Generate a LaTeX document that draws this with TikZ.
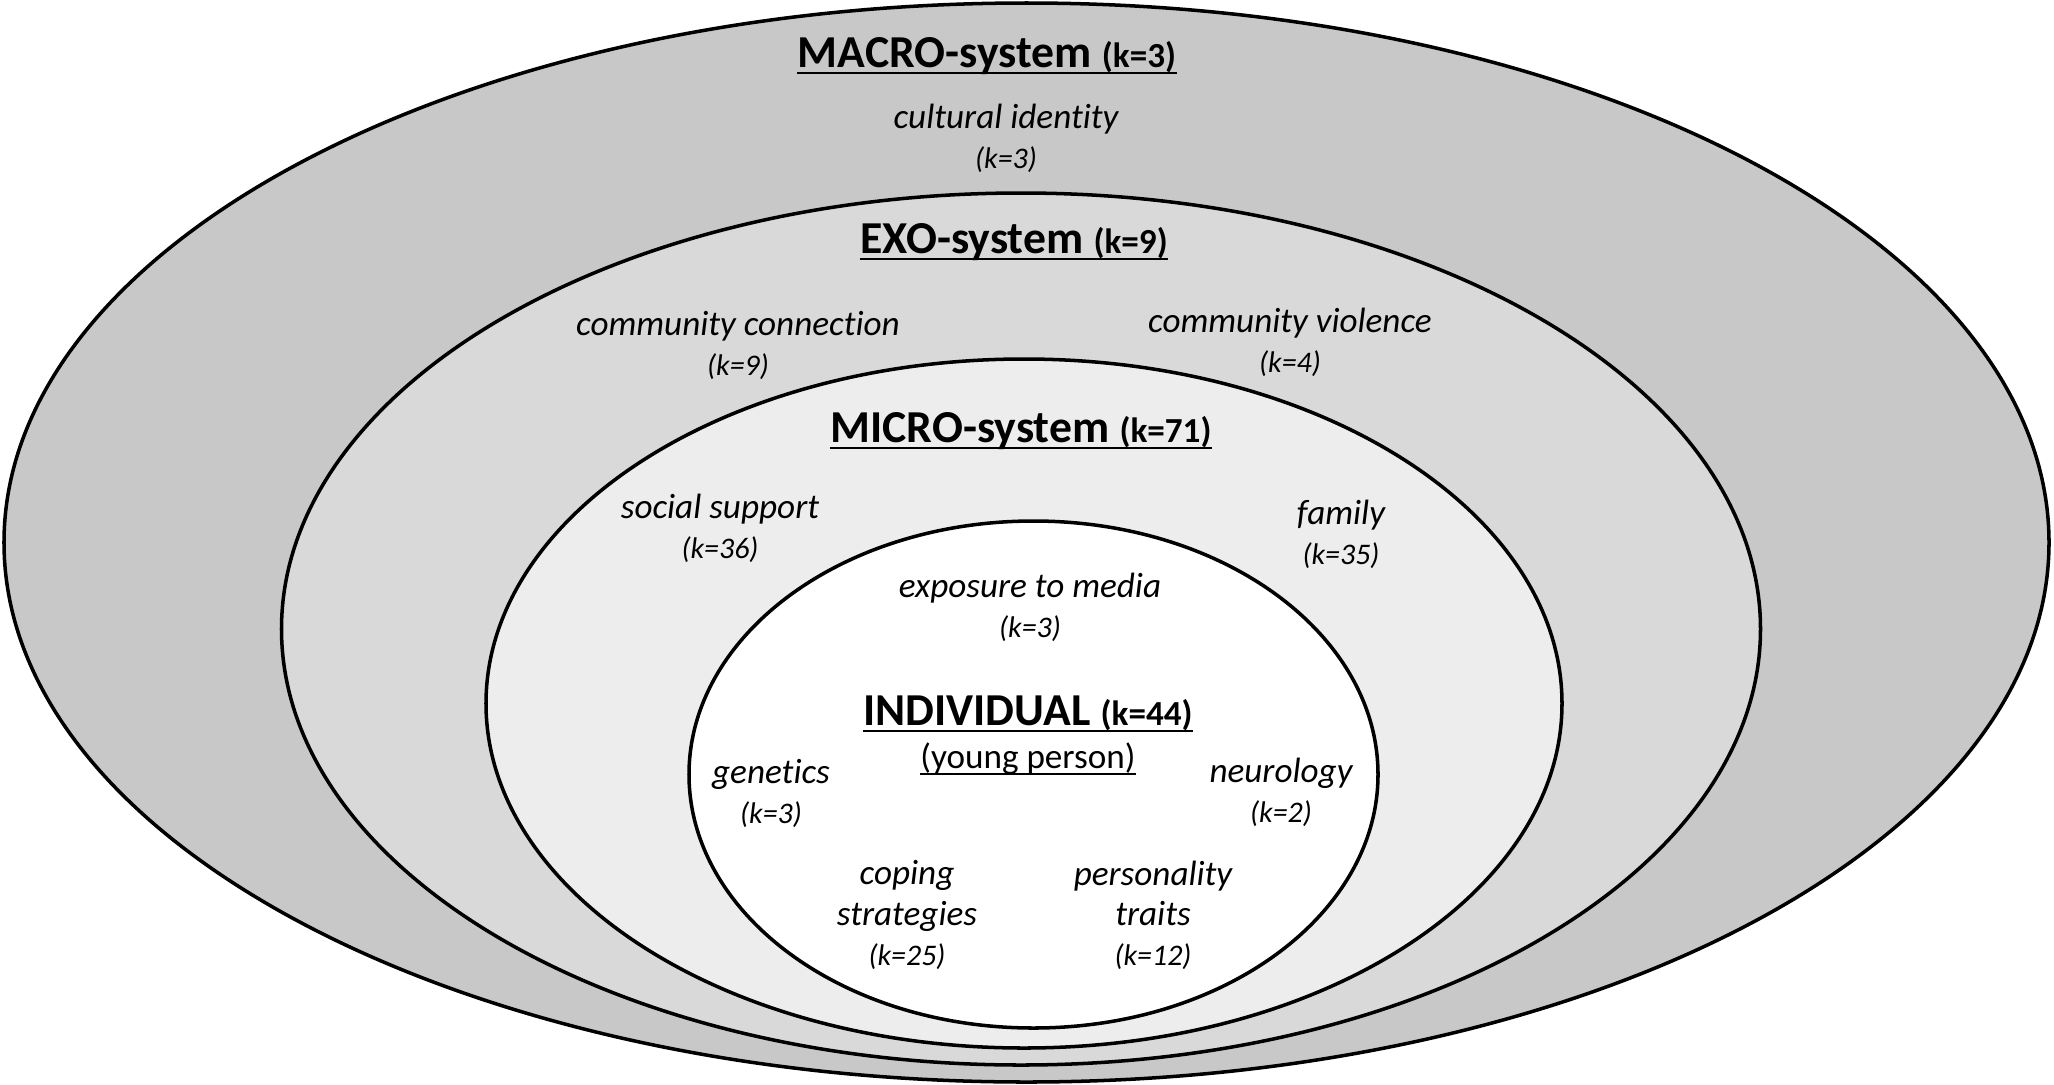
\documentclass[tikz,border=0pt]{standalone}
\usepackage{fontspec}
\setmainfont{Carlito}[Ligatures=NoCommon]
\definecolor{macrogray}{RGB}{200,200,200}
\definecolor{exogray}{RGB}{217,217,217}
\definecolor{microgray}{RGB}{237,237,237}
\tikzset{
  ring/.style={draw=black, line width=1pt},
  ttl/.style={inner sep=0pt, anchor=base, font=\bfseries\fontsize{13}{15}\selectfont},
  lbl/.style={align=center, inner sep=0pt, font=\itshape\fontsize{10}{11.4}\selectfont},
  uline/.style={line width=0.7pt},
}
\newcommand{\ktitle}[1]{{\fontsize{10}{12}\selectfont(k=#1)}}
\newcommand{\klabel}[1]{{\fontsize{8.5}{11.4}\selectfont(k=#1)}}

\begin{document}
\begin{tikzpicture}[x=0.01cm, y=-0.01cm]
    \useasboundingbox (0,0) rectangle (2054,1084);
    \fill[white] (0,0) rectangle (2054,1084);

    % the four systems, outside in
    \draw[ring, fill=macrogray] (1026.5,542.5) ellipse [x radius=1022.5, y radius=539.5];
    \draw[ring, fill=exogray]   (1021,629)     ellipse [x radius=739.5,  y radius=436];
    \draw[ring, fill=microgray] (1024,703.5)   ellipse [x radius=538,    y radius=344.5];
    \draw[ring, fill=white]     (1033.5,774.5) ellipse [x radius=344.5,  y radius=253.5];

    % titles
    \node[ttl] (mac) at (987,67)   {MACRO-system \ktitle{3}};
    \node[ttl] (exo) at (1014,253) {EXO-system \ktitle{9}};
    \node[ttl] (mic) at (1021,442) {MICRO-system \ktitle{71}};
    \node[ttl] (ind) at (1028,725) {INDIVIDUAL \ktitle{44}};
    \node[inner sep=0pt, anchor=base, font=\fontsize{10}{12}\selectfont] (yp) at (1028,768) {(young person)};
    \foreach \t in {mac,exo,mic,ind,yp}
        \draw[uline] ([yshift=-1.7pt]\t.base west) -- ([yshift=-1.7pt]\t.base east);

    % factors
    \node[lbl] (cult)  at (1006,138)  {cultural identity\\\klabel{3}};
    \node[lbl] (ccon)  at (738,345)   {community connection\\\klabel{9}};
    \node[lbl] (cvio)  at (1290,342)  {community violence\\\klabel{4}};
    \node[lbl] (soc)   at (720,528)   {social support\\\klabel{36}};
    \node[lbl] (fam)   at (1341,534)  {family\\\klabel{35}};
    \node[lbl] (media) at (1030,607)  {exposure to media\\\klabel{3}};
    \node[lbl] (gen)   at (771,793)   {genetics\\\klabel{3}};
    \node[lbl] (neuro) at (1281,792)  {neurology\\\klabel{2}};
    \node[lbl] (cope)  at (907,915)   {coping\\strategies\\\klabel{25}};
    \node[lbl] (pers)  at (1153,915)  {personality\\traits\\\klabel{12}};
\end{tikzpicture}
\end{document}
